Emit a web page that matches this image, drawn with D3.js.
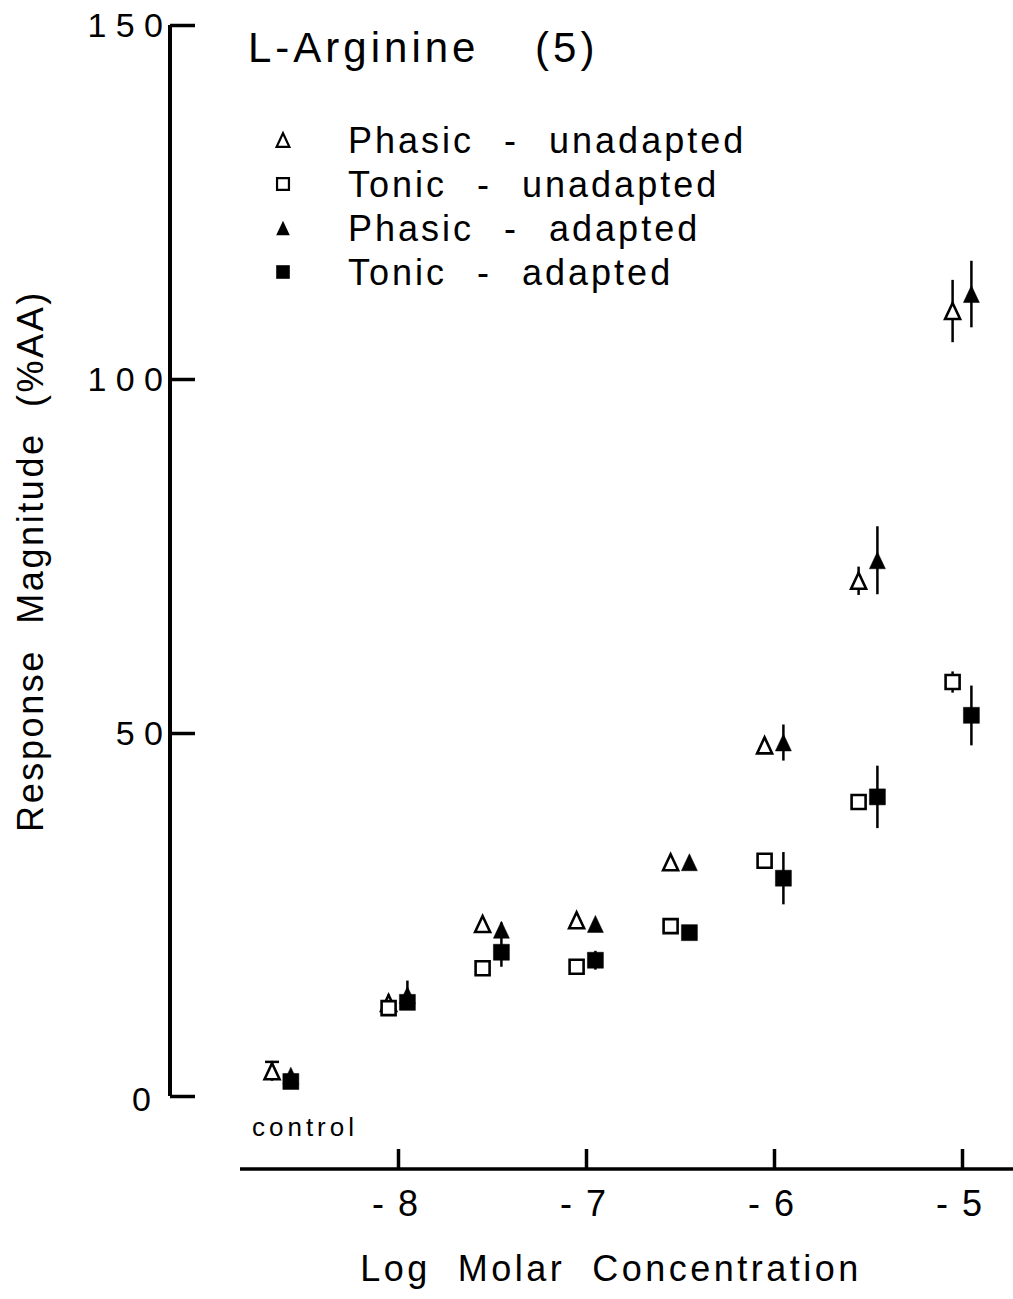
<!DOCTYPE html>
<html>
<head>
<meta charset="utf-8">
<script src="https://cdn.jsdelivr.net/npm/d3@7"></script>
<style>
  html, body { margin: 0; padding: 0; background: #fff; }
  svg { display: block; }
  text { font-family: "Liberation Sans", Arial, Helvetica, sans-serif; fill: #000; white-space: pre; }
</style>
</head>
<body>
<svg id="chart" width="1013" height="1299"></svg>
<script>
// Log molar concentration of each test point ("control" is drawn left of -8)
const concentrations = [-8.62, -8, -7.5, -7, -6.5, -6, -5.5, -5];

// Response magnitude (%AA), mean and error half-width per concentration
const phasicUnadapted    = [3.4, 12.8, 23.7, 24.2, 32.2, 48.3, 71.5, 109.6];
const phasicUnadaptedErr = [1.3, 1.2, 0.8, 0.6, 0.6, 0.8, 2.0, 4.4];
const tonicUnadapted     = [null, 12.1, 17.6, 17.8, 23.4, 32.4, 40.5, 57.2];
const tonicUnadaptedErr  = [0, 0.5, 0.5, 0.5, 0.8, 0.6, 1.0, 1.5];
const phasicAdapted      = [2.8, 13.9, 22.9, 23.7, 32.2, 48.7, 74.4, 112.0];
const phasicAdaptedErr   = [0.6, 2.0, 1.0, 0.7, 0.8, 2.5, 4.8, 4.7];
const tonicAdapted       = [2.0, 12.9, 19.8, 18.7, 22.5, 30.0, 41.2, 52.5];
const tonicAdaptedErr    = [0.5, 0.6, 2.0, 1.3, 0.6, 3.6, 4.3, 4.2];

const xTicks = [-8, -7, -6, -5];
const xTickLabels = ["- 8", "- 7", "- 6", "- 5"];
const yTicks = [0, 50, 100, 150];
const yTickLabels = ["0", "5 0", "1 0 0", "1 5 0"];

const series = [
  { name: "Phasic - unadapted", values: phasicUnadapted, err: phasicUnadaptedErr, shape: "triangle", filled: false, dodge: -0.05 },
  { name: "Tonic - unadapted",  values: tonicUnadapted,  err: tonicUnadaptedErr,  shape: "square",   filled: false, dodge: -0.05 },
  { name: "Phasic - adapted",   values: phasicAdapted,   err: phasicAdaptedErr,   shape: "triangle", filled: true,  dodge: 0.05 },
  { name: "Tonic - adapted",    values: tonicAdapted,    err: tonicAdaptedErr,    shape: "square",   filled: true,  dodge: 0.05 }
];

const svg = d3.select("#chart");

const x = d3.scaleLinear().domain([-8, -5]).range([398, 962]);
const y = d3.scaleLinear().domain([0, 50, 100, 150]).range([1096, 733, 379, 25]);

// Marker outlines centred on the data point
function markerPath(shape, filled, k = 1) {
  if (shape === "triangle") {
    const w = (filled ? 16 : 15) * k, h = (filled ? 17 : 16) * k;
    return `M0,${-h / 2}L${w / 2},${h / 2}L${-w / 2},${h / 2}Z`;
  }
  const s = (filled ? 16 : 14) * k;
  return `M${-s / 2},${-s / 2}H${s / 2}V${s / 2}H${-s / 2}Z`;
}

// Y axis: ticks point into the plot
const yAxis = d3.axisRight(y).tickValues(yTicks).tickSize(25).tickFormat("");
const yG = svg.append("g").attr("transform", "translate(170,0)").call(yAxis);
yG.select(".domain").attr("stroke", "#000").attr("stroke-width", 4).attr("d", `M0,${y(150)}V${y(0)}`);
yG.selectAll(".tick line").attr("stroke", "#000").attr("stroke-width", 3.5);

svg.append("g").selectAll("text").data(yTicks).join("text")
  .attr("x", (d) => d === 0 ? 151 : 163)
  .attr("y", (d) => y(d) + (d === 0 ? 15 : 12))
  .attr("text-anchor", "end")
  .attr("font-size", 34)
  .text((d, i) => yTickLabels[i]);

// X axis: ticks point up
const xAxis = d3.axisTop(x).tickValues(xTicks).tickSize(20).tickFormat("");
const xG = svg.append("g").attr("transform", "translate(0,1169)").call(xAxis);
xG.select(".domain").attr("stroke", "#000").attr("stroke-width", 3.5).attr("d", "M240,0H1013");
xG.selectAll(".tick line").attr("stroke", "#000").attr("stroke-width", 3.5);

svg.append("g").selectAll("text").data(xTicks).join("text")
  .attr("x", (d) => x(d) - 2)
  .attr("y", 1216)
  .attr("text-anchor", "middle")
  .attr("font-size", 36)
  .attr("letter-spacing", 2)
  .text((d, i) => xTickLabels[i]);

svg.append("text")
  .attr("x", 305).attr("y", 1136)
  .attr("text-anchor", "middle")
  .attr("font-size", 26)
  .attr("letter-spacing", 4)
  .text("control");

// Axis titles
svg.append("text")
  .attr("x", 611).attr("y", 1281)
  .attr("text-anchor", "middle")
  .attr("font-size", 36)
  .attr("letter-spacing", 3.5)
  .text("Log  Molar  Concentration");

svg.append("text")
  .attr("transform", "translate(43,561) rotate(-90)")
  .attr("text-anchor", "middle")
  .attr("font-size", 36)
  .attr("letter-spacing", 2.6)
  .text("Response  Magnitude  (%AA)");

// Chart title
svg.append("text")
  .attr("x", 248).attr("y", 62)
  .attr("font-size", 42)
  .attr("letter-spacing", 4)
  .attr("word-spacing", 40)
  .text("L-Arginine (5)");

// Legend
const legend = svg.append("g");
series.forEach((s, i) => {
  const ly = 140 + i * 44;
  legend.append("path")
    .attr("transform", `translate(283,${ly})`)
    .attr("d", markerPath(s.shape, s.filled, 0.85))
    .attr("fill", s.filled ? "#000" : "#fff")
    .attr("stroke", "#000")
    .attr("stroke-width", s.filled ? 0 : 2.2);
  legend.append("text")
    .attr("x", 348).attr("y", ly + 13)
    .attr("font-size", 36)
    .attr("letter-spacing", 3)
    .attr("word-spacing", 17)
    .text(s.name);
});

// Data: error bars then markers, one group per series
series.forEach((s) => {
  const pts = concentrations.map((c, i) => ({ c, v: s.values[i], e: s.err[i], control: i === 0 }))
    .filter((p) => p.v !== null);
  const g = svg.append("g");
  g.selectAll("line.err").data(pts.filter((p) => p.e > 0)).join("line")
    .attr("class", "err")
    .attr("x1", (p) => x(p.c + s.dodge)).attr("x2", (p) => x(p.c + s.dodge))
    .attr("y1", (p) => y(p.v + p.e)).attr("y2", (p) => y(p.v - p.e))
    .attr("stroke", "#000").attr("stroke-width", 2.5);
  // the control bar of the open triangles carries a cap
  g.selectAll("line.cap").data(pts.filter((p) => p.control && !s.filled)).join("line")
    .attr("class", "cap")
    .attr("x1", (p) => x(p.c + s.dodge) - 7).attr("x2", (p) => x(p.c + s.dodge) + 7)
    .attr("y1", (p) => y(p.v + p.e)).attr("y2", (p) => y(p.v + p.e))
    .attr("stroke", "#000").attr("stroke-width", 2.5);
  g.selectAll("path.mark").data(pts).join("path")
    .attr("class", "mark")
    .attr("transform", (p) => `translate(${x(p.c + s.dodge)},${y(p.v)})`)
    .attr("d", markerPath(s.shape, s.filled))
    .attr("fill", s.filled ? "#000" : "#fff")
    .attr("stroke", "#000")
    .attr("stroke-width", s.filled ? 0.5 : 2.6);
});
</script>
</body>
</html>
